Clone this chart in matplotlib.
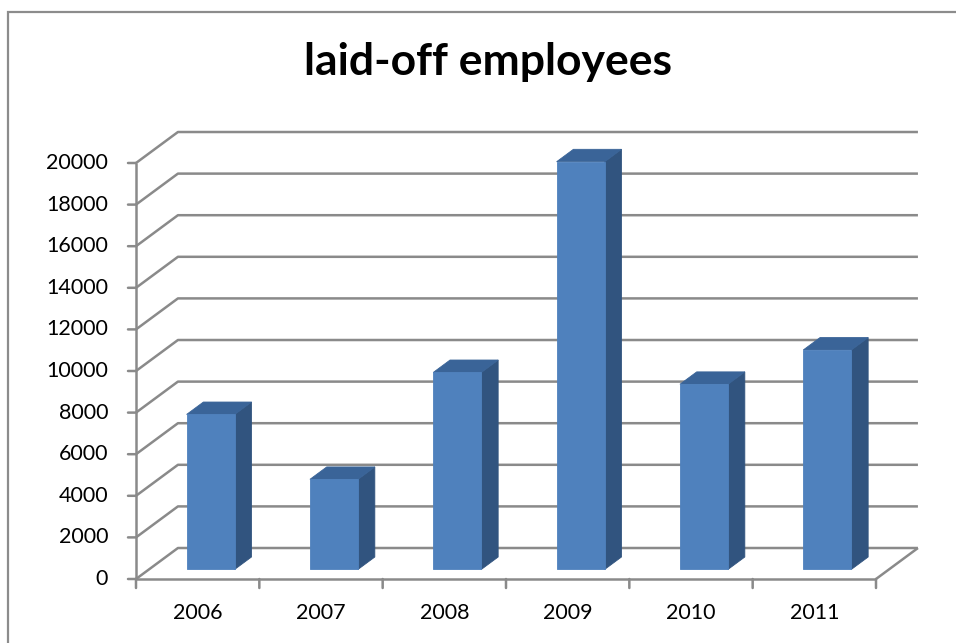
import matplotlib.pyplot as plt
from matplotlib.patches import Polygon, Rectangle

plt.rcParams['font.family'] = ['Lato', 'DejaVu Sans']

years = ['2006', '2007', '2008', '2009', '2010', '2011']
laid_off = [7450, 4330, 9470, 19600, 8900, 10550]
yticks = list(range(0, 20001, 2000))

# oblique "3d" look: a point at depth d (0 = front, 1 = back wall)
# is shifted right and up in data units
DX, DY = 0.34, 1490
def proj(x, v, d):
    return (x + d * DX, v + d * DY)

fig = plt.figure(figsize=(9.56, 6.43), dpi=100)
fig.patches.append(Rectangle((8 / 956, -0.1), 1.2, (643 - 12) / 643 + 0.1,
                             transform=fig.transFigure, fill=False,
                             edgecolor='#8c8c8c', linewidth=1.6))

ax = fig.add_axes([136 / 956, 64 / 643, 740 / 956, 416 / 643])
ax.set_xlim(0, len(years))
ax.set_ylim(0, 20000)
ax.axis('off')

grid = dict(color='#8a8a8a', linewidth=1.8, clip_on=False, solid_capstyle='butt')
n = len(years)

# back wall gridlines plus the diagonal side wall lines
for v in yticks:
    p0, p1, p2 = proj(0, v, 0), proj(0, v, 1), proj(n, v, 1)
    ax.plot([p0[0], p1[0], p2[0]], [p0[1], p1[1], p2[1]], **grid)

# floor: front edge and right diagonal
a, b = proj(n, 0, 0), proj(n, 0, 1)
ax.plot([0, n], [0, 0], **grid)
ax.plot([a[0], b[0]], [a[1], b[1]], **grid)

# value axis with ticks
ax.plot([0, 0], [0, 20000], **grid)
for v in yticks:
    ax.annotate('', xy=(0, v), xytext=(-8, 0), textcoords='offset pixels',
                arrowprops=dict(arrowstyle='-', color='#8a8a8a', lw=1.8,
                                shrinkA=0, shrinkB=0))
    ax.annotate(str(v), xy=(0, v), xytext=(-28, 0), textcoords='offset pixels',
                ha='right', va='center', fontsize=15.5, color='black')

# category ticks and labels
for i in range(n + 1):
    ax.annotate('', xy=(i, 0), xytext=(0, -9), textcoords='offset pixels',
                arrowprops=dict(arrowstyle='-', color='#8a8a8a', lw=1.8,
                                shrinkA=0, shrinkB=0))
for i, yr in enumerate(years):
    ax.annotate(yr, xy=(i + 0.5, 0), xytext=(0, -34), textcoords='offset pixels',
                ha='center', va='center', fontsize=15.5, color='black')

# bars
w = 0.39
d0, d1 = 0.31, 0.71
front_c, side_c, top_c = '#4f81bd', '#31547f', '#3a6498'
for i, v in enumerate(laid_off):
    xl, xr = i + 0.5 - w / 2, i + 0.5 + w / 2
    side = [proj(xr, 0, d0), proj(xr, v, d0), proj(xr, v, d1), proj(xr, 0, d1)]
    top = [proj(xl, v, d0), proj(xr, v, d0), proj(xr, v, d1), proj(xl, v, d1)]
    front = [proj(xl, 0, d0), proj(xr, 0, d0), proj(xr, v, d0), proj(xl, v, d0)]
    for pts, c in ((side, side_c), (top, top_c), (front, front_c)):
        ax.add_patch(Polygon(pts, closed=True, facecolor=c, edgecolor=c,
                             linewidth=0.6, clip_on=False, zorder=3))

fig.text(488 / 956, 1 - 62 / 643, 'laid-off employees', ha='center', va='center',
         fontsize=32, fontweight='bold', color='black')

fig.savefig('out.png', dpi=100)
